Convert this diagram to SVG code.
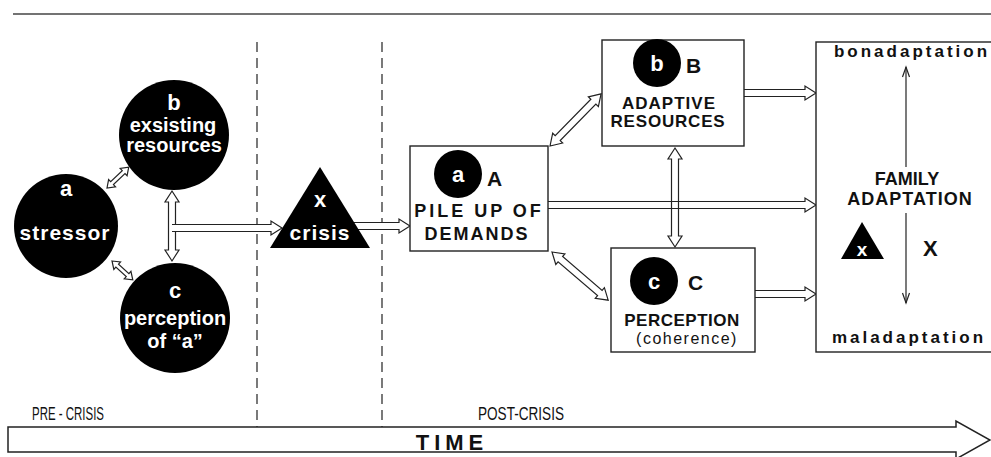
<svg xmlns="http://www.w3.org/2000/svg" width="991" height="457" viewBox="0 0 991 457">
<style>
  text { font-family: "Liberation Sans", Arial, sans-serif; }
  .blk { fill: #000; }
  .wt { fill: #fff; font-weight: bold; text-anchor: middle; }
  .bt { fill: #111; font-weight: bold; text-anchor: middle; }
  .big { fill: #111; font-weight: bold; font-size: 21px; }
  .box { fill: #fff; stroke: #222; stroke-width: 1.4; }
  .dar { fill: #fff; stroke: #222; stroke-width: 1.2; stroke-linejoin: miter; }
  .oar { fill: none; stroke: #222; stroke-width: 1.2; }
  .dash { stroke: #333; stroke-width: 1.3; stroke-dasharray: 10 6; fill: none; }
  .thin { stroke: #222; stroke-width: 1.2; fill: none; }
</style>

<line x1="13" y1="14" x2="991" y2="14" stroke="#444" stroke-width="1.6"/>

<g id="dividers">
  <line class="dash" x1="257" y1="42" x2="257" y2="427"/>
  <line class="dash" x1="382" y1="42" x2="382" y2="427"/>
</g>

<g id="connectors">
  <polygon class="dar" transform="translate(107,188) rotate(-43.7)" points="0,0 7,-5 7,-2 23,-2 23,-5 30,0 23,5 23,2 7,2 7,5"/>
  <polygon class="dar" transform="translate(112,261) rotate(42.1)" points="0,0 7,-5 7,-2 21,-2 21,-5 28,0 21,5 21,2 7,2 7,5"/>
  <polygon class="dar" transform="translate(172,191) rotate(90)" points="0,0 11,-7 11,-3.5 59,-3.5 59,-7 70,0 59,7 59,3.5 11,3.5 11,7"/>
  <path class="dar" d="M172,224.5 H271 V221 L282,228 L271,235 V231.5 H172"/>
  <path class="dar" d="M350,222.5 H399 V219 L410,226 L399,233 V229.5 H350"/>
  <polygon class="dar" transform="translate(550,146) rotate(-45.6)" points="0,0 11,-7 11,-3.5 62,-3.5 62,-7 73,0 62,7 62,3.5 11,3.5 11,7"/>
  <polygon class="dar" transform="translate(552,252) rotate(40.6)" points="0,0 11,-7 11,-3.5 63,-3.5 63,-7 74,0 63,7 63,3.5 11,3.5 11,7"/>
  <polygon class="dar" transform="translate(675,148) rotate(90)" points="0,0 11,-7 11,-3.5 88,-3.5 88,-7 99,0 88,7 88,3.5 11,3.5 11,7"/>
  <path class="oar" d="M548,201.5 H805 V198 L816,205 L805,212 V208.5 H548"/>
  <path class="dar" d="M744,89.5 H805 V86 L816,93 L805,100 V96.5 H744"/>
  <path class="dar" d="M755,290.5 H805 V287 L816,294 L805,301 V297.5 H755"/>
</g>

<g id="node-b-circle">
  <circle class="blk" cx="174" cy="135" r="55"/>
  <text class="wt" x="174" y="110" font-size="22">b</text>
  <text class="wt" x="173" y="132" font-size="20">exsisting</text>
  <text class="wt" x="174" y="152" font-size="20">resources</text>
</g>

<g id="node-a-circle">
  <circle class="blk" cx="66" cy="226" r="52"/>
  <text class="wt" x="66" y="196" font-size="22">a</text>
  <text class="wt" x="65" y="240" font-size="21" letter-spacing="1">stressor</text>
</g>

<g id="node-c-circle">
  <circle class="blk" cx="175" cy="318" r="55"/>
  <text class="wt" x="175" y="298" font-size="22">c</text>
  <text class="wt" x="175" y="325" font-size="20">perception</text>
  <text class="wt" x="175" y="348" font-size="20">of “a”</text>
</g>

<g id="node-crisis">
  <polygon class="blk" points="320,167 270,248 370,248"/>
  <text class="wt" x="320" y="207" font-size="22">x</text>
  <text class="wt" x="320" y="240" font-size="21" letter-spacing="1">crisis</text>
</g>

<g id="node-A">
  <rect class="box" x="410" y="146" width="138" height="105"/>
  <circle class="blk" cx="458" cy="174" r="24"/>
  <text class="wt" x="458" y="182" font-size="22">a</text>
  <text class="big" x="487" y="186">A</text>
  <text class="bt" x="479" y="217" font-size="18" letter-spacing="3">PILE UP OF</text>
  <text class="bt" x="477" y="240" font-size="18" letter-spacing="2">DEMANDS</text>
</g>

<g id="node-B">
  <rect class="box" x="602" y="40" width="142" height="106"/>
  <circle class="blk" cx="657" cy="63" r="24"/>
  <text class="wt" x="657" y="71" font-size="22">b</text>
  <text class="big" x="686" y="73">B</text>
  <text class="bt" x="669" y="109" font-size="17" letter-spacing="1">ADAPTIVE</text>
  <text class="bt" x="668" y="127" font-size="17" letter-spacing="0.8">RESOURCES</text>
</g>

<g id="node-C">
  <rect class="box" x="611" y="248" width="144" height="104"/>
  <circle class="blk" cx="654" cy="281" r="24"/>
  <text class="wt" x="654" y="289" font-size="22">c</text>
  <text class="big" x="688" y="290">C</text>
  <text class="bt" x="682" y="326" font-size="17" letter-spacing="0.5">PERCEPTION</text>
  <text x="687" y="344" font-size="16" fill="#111" text-anchor="middle" letter-spacing="1.5">(coherence)</text>
</g>

<g id="node-family">
  <rect class="box" x="816" y="42" width="200" height="310"/>
  <line class="thin" x1="906" y1="167" x2="906" y2="67"/>
  <path class="thin" d="M902.5,77 L906,67 L909.5,77"/>
  <line class="thin" x1="906" y1="213" x2="906" y2="303"/>
  <path class="thin" d="M902.5,293 L906,303 L909.5,293"/>
  <text class="bt" x="912" y="57" font-size="17" letter-spacing="3">bonadaptation</text>
  <text class="bt" x="907" y="185" font-size="18">FAMILY</text>
  <text class="bt" x="910" y="205" font-size="18" letter-spacing="1">ADAPTATION</text>
  <polygon class="blk" points="862,222 841,259 884,259"/>
  <text class="wt" x="862" y="256" font-size="19">x</text>
  <text x="923" y="256" font-size="22" font-weight="bold" fill="#111">X</text>
  <text class="bt" x="909" y="343" font-size="17" letter-spacing="3">maladaptation</text>
</g>

<g id="time-axis">
  <polygon points="8,427 956,427 956,421 990,440 956,459 956,452 8,452" fill="#fff" stroke="#222" stroke-width="1.5"/>
  <text x="32" y="420" font-size="18" fill="#111" textLength="72" lengthAdjust="spacingAndGlyphs">PRE - CRISIS</text>
  <text x="478" y="420" font-size="18" fill="#111" textLength="86" lengthAdjust="spacingAndGlyphs">POST-CRISIS</text>
  <text class="bt" x="452" y="450" font-size="22" letter-spacing="5">TIME</text>
</g>
</svg>
